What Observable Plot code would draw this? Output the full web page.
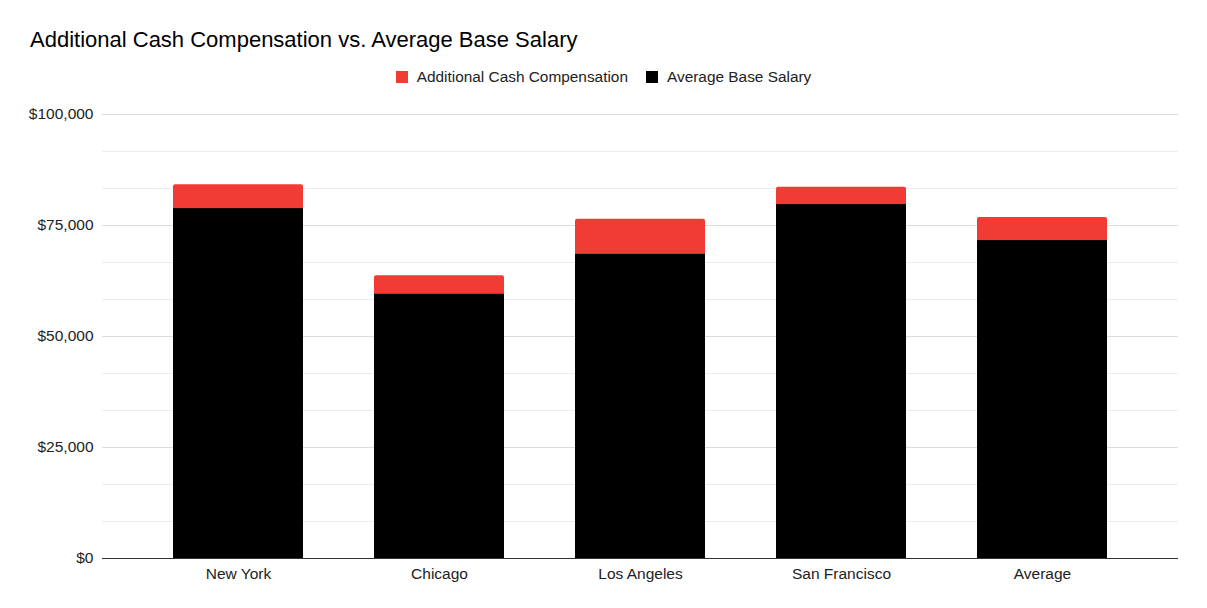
<!DOCTYPE html>
<html>
<head>
<meta charset="utf-8">
<script src="https://cdn.jsdelivr.net/npm/d3@7"></script>
<script src="https://cdn.jsdelivr.net/npm/@observablehq/plot@0.6"></script>
<style>
  body { margin: 0; background: #fff; font-family: "Liberation Sans", Arial, sans-serif; }
  #wrap { position: relative; width: 1207px; height: 608px; overflow: hidden; }
  #title { position: absolute; left: 30px; top: 27px; font-size: 22px; color: #000; white-space: nowrap; }
  #legend { position: absolute; left: 0; width: 1207px; top: 68px; text-align: center; font-size: 15.4px; color: #222; white-space: nowrap; }
  #legend span.item { display: inline-block; margin: 0 9px; }
  #legend span.sw { display: inline-block; width: 12px; height: 12px; vertical-align: -1px; margin-right: 9px; }
  #chart { position: absolute; left: 0; top: 95px; }
</style>
</head>
<body>
<div id="wrap">
  <div id="title">Additional Cash Compensation vs. Average Base Salary</div>
  <div id="legend"></div>
  <div id="chart"></div>
</div>
<script>
const cities = ["New York", "Chicago", "Los Angeles", "San Francisco", "Average"];
const baseSalary = [78800, 59500, 68500, 79700, 71600];
const additionalCash = [5400, 4200, 7900, 3900, 5200];
const seriesNames = ["Additional Cash Compensation", "Average Base Salary"];
const seriesColors = ["#f13b35", "#000000"];
const yTicks = [0, 25000, 50000, 75000, 100000];
const yMinorGrid = [8333.33, 16666.67, 33333.33, 41666.67, 58333.33, 66666.67, 83333.33, 91666.67];

const rows = cities.map((c, i) => ({city: c, base: baseSalary[i], extra: additionalCash[i], total: baseSalary[i] + additionalCash[i]}));

const legend = document.getElementById("legend");
seriesNames.forEach((n, i) => {
  const it = document.createElement("span");
  it.className = "item";
  it.innerHTML = `<span class="sw" style="background:${seriesColors[i]}"></span>${n}`;
  legend.appendChild(it);
});

const fmt = d3.format("$,");

const plot = Plot.plot({
  width: 1207,
  height: 513,
  marginTop: 19,
  marginBottom: 50,
  marginLeft: 102,
  marginRight: 29,
  style: {fontFamily: "'Liberation Sans', Arial, sans-serif", fontSize: "15.5px", color: "#222", background: "#fff"},
  x: {domain: cities, padding: 0.352, label: null, tickSize: 0, tickPadding: 9},
  y: {domain: [0, 100000], ticks: yTicks, tickFormat: fmt, label: null, tickSize: 0, tickPadding: 9},
  marks: [
    Plot.ruleY(yMinorGrid, {stroke: "#ececec", strokeWidth: 1}),
    Plot.ruleY(yTicks.filter(d => d > 0), {stroke: "#dcdcdc", strokeWidth: 1}),
    Plot.barY(rows, {x: "city", y: "total", fill: seriesColors[0], rx: 2}),
    Plot.barY(rows, {x: "city", y: "base", fill: seriesColors[1]}),
    Plot.ruleY([0], {stroke: "#333", strokeWidth: 1})
  ]
});
document.getElementById("chart").appendChild(plot);
</script>
</body>
</html>
